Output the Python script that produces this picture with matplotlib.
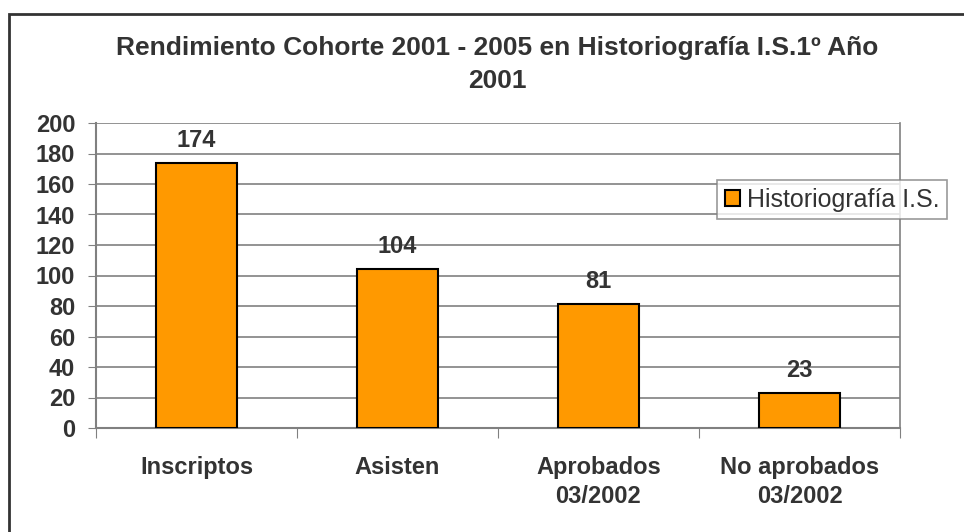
import matplotlib.pyplot as plt
from matplotlib.patches import Rectangle

categories = ['Inscriptos', 'Asisten', 'Aprobados\n03/2002', 'No aprobados\n03/2002']
values = [174, 104, 81, 23]
series_name = 'Historiografía I.S.'
title = 'Rendimiento Cohorte 2001 - 2005 en Historiografía I.S.1º Año\n2001'

plt.rcParams['font.family'] = ['Liberation Sans', 'DejaVu Sans']
text_col = '#333333'

fig = plt.figure(figsize=(9.64, 5.32), dpi=100)
ax = fig.add_axes([96 / 964, 1 - 428 / 532, 804 / 964, 305 / 532])

x = list(range(len(categories)))
bars = ax.bar(x, values, width=0.4, color='#FF9900', edgecolor='black',
              linewidth=1.5, label=series_name, zorder=3)

for xi, v in zip(x, values):
    ax.annotate(str(v), (xi, v), xytext=(0, 8), textcoords='offset points',
                ha='center', va='bottom', fontsize=17, fontweight='bold',
                color=text_col)

ax.set_xlim(-0.5, len(categories) - 0.5)
ax.set_ylim(0, 200)
ax.set_yticks(range(0, 201, 20))
ax.yaxis.grid(True, color='#808080', linewidth=1.2, zorder=0)
ax.tick_params(axis='y', length=6, color='#808080', labelsize=17,
               labelcolor=text_col, pad=9)
for lab in ax.get_yticklabels():
    lab.set_fontweight('bold')

# category ticks between groups, labels centred under bars
ax.set_xticks([i - 0.5 for i in range(len(categories) + 1)])
ax.set_xticklabels([])
ax.set_xticks(x, minor=True)
ax.set_xticklabels(categories, minor=True, fontsize=17, fontweight='bold',
                   color=text_col, linespacing=1.35)
ax.tick_params(axis='x', which='major', length=7, color='#808080', direction='out')
ax.tick_params(axis='x', which='minor', length=0, pad=20)

for side in ['left', 'bottom']:
    ax.spines[side].set_color('#808080')
    ax.spines[side].set_linewidth(1.5)
ax.spines['top'].set_visible(False)
ax.spines['right'].set_color('#808080')
ax.spines['right'].set_linewidth(1.2)

leg = ax.legend(loc='upper left', bbox_to_anchor=(717 / 964, 1 - 180 / 532),
                bbox_transform=fig.transFigure, fontsize=18, frameon=True,
                fancybox=False, handlelength=0.6, handleheight=0.6,
                handletextpad=0.3, borderpad=0.3, borderaxespad=0)
leg.get_frame().set_edgecolor('#808080')
leg.get_frame().set_linewidth(1.2)
for t in leg.get_texts():
    t.set_color(text_col)

fig.text(497 / 964, 1 - 36 / 532, title, ha='center', va='top', fontsize=19,
         fontweight='bold', color=text_col, linespacing=1.45)

# outer chart border
fig.patches.append(Rectangle((9 / 964, -0.1), 1.2, 1 - 14 / 532 + 0.1,
                             transform=fig.transFigure, fill=False,
                             edgecolor='#333333', linewidth=2))

fig.savefig('out.png', dpi=100)
